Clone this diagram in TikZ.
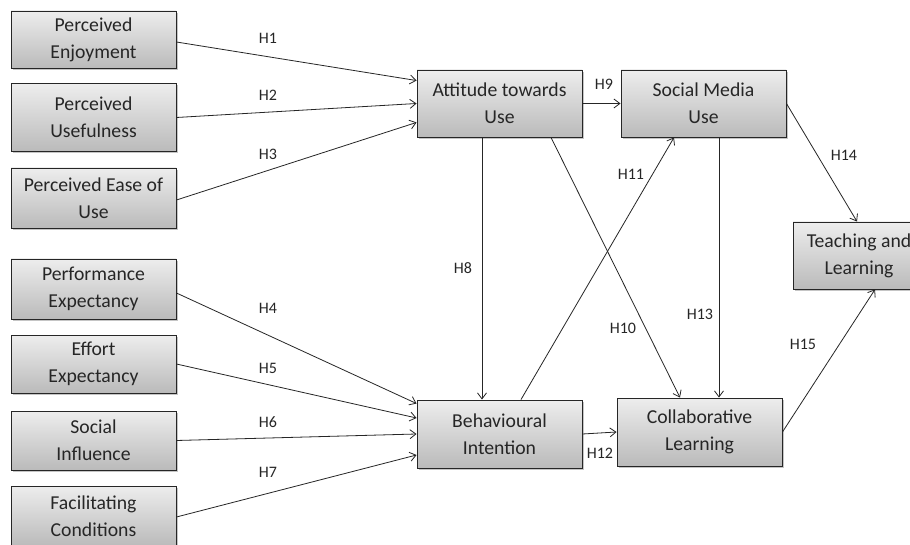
\documentclass[tikz,border=0pt]{standalone}
\usepackage{fontspec}
\setmainfont{Carlito}
\usetikzlibrary{arrows.meta,shadows}
\definecolor{ink}{HTML}{262626}
\tikzset{
  box/.style={draw=black!85, line width=0.9pt, top color=black!7, bottom color=black!27,
    drop shadow={shadow xshift=1.6pt, shadow yshift=-1.6pt, opacity=0.45},
    align=center, text=ink, inner sep=2pt, minimum width=165pt,
    font=\fontsize{19.7}{27}\selectfont},
  arr/.style={draw=ink, line width=0.8pt, -{Straight Barb[length=6pt,width=9pt]}},
  lbl/.style={text=ink, inner sep=0pt, font=\fontsize{16}{18}\selectfont}
}
\begin{document}
\begin{tikzpicture}[x=1pt,y=-1pt]
\clip (0,0) rectangle (910,545);
\fill[white] (0,0) rectangle (910,545);
% left column
\node[box, minimum height=57pt] (pe)   at (93.5,39.5)  {Perceived\\Enjoyment};
\node[box, minimum height=68pt] (pu)   at (93.5,117.5) {Perceived\\Usefulness};
\node[box, minimum height=60pt] (peou) at (93.5,198)   {Perceived Ease of\\Use};
\node[box, minimum height=60pt] (perf) at (93.5,289)   {Performance\\Expectancy};
\node[box, minimum height=58pt] (eff)  at (93.5,364)   {Effort\\Expectancy};
\node[box, minimum height=59pt] (si)   at (93.5,440.5) {Social\\Influence};
\node[box, minimum height=60pt] (fc)   at (93.5,516)   {Facilitating\\Conditions};
% middle / right
\node[box, minimum height=67pt] (att) at (499.5,103.5) {Attitude towards\\Use};
\node[box, minimum height=67pt] (smu) at (703.5,103.5) {Social Media\\Use};
\node[box, minimum height=68pt] (bi)  at (499.5,434)   {Behavioural\\Intention};
\node[box, minimum height=68pt] (cl)  at (699.5,432)   {Collaborative\\Learning};
\node[box, minimum height=67pt, minimum width=132pt] (tl) at (859,255.5) {Teaching and\\Learning};
% connectors
\draw[arr] ([yshift=-2.5pt]pe.east) -- ([yshift=-11pt]att.north west);
\draw[arr] (pu.east) -- (att.west);
\draw[arr] ([yshift=-2pt]peou.east) -- ([yshift=15pt]att.south west);
\draw[arr] ([yshift=-4pt]perf.east) -- ([yshift=-4pt]bi.north west);
\draw[arr] (eff.east) -- ([yshift=16pt]bi.west);
\draw[arr] (si.east) -- (bi.west);
\draw[arr] ([yshift=-1pt]fc.east) -- ([yshift=-21pt]bi.west);
\draw[arr] (att.east) -- (smu.west);
\draw[arr] ([xshift=-17.5pt]att.south) -- ([xshift=-17.5pt]bi.north);
\draw[arr] ([xshift=51.5pt]att.south) -- ([xshift=-19.5pt]cl.north);
\draw[arr] ([xshift=21.5pt]bi.north) -- ([xshift=-29.5pt]smu.south);
\draw[arr] (bi.east) -- (cl.west);
\draw[arr] ([xshift=15.5pt]smu.south) -- ([xshift=19.5pt]cl.north);
\draw[arr] (smu.east) -- ([xshift=-2pt]tl.north);
\draw[arr] (cl.east) -- ([xshift=16pt]tl.south);
% labels
\node[lbl] (h1)  at (268,38)  {H1};
\node[lbl] (h2)  at (268,95)  {H2};
\node[lbl] (h3)  at (268,154) {H3};
\node[lbl] (h4)  at (268,308) {H4};
\node[lbl] (h5)  at (268,368) {H5};
\node[lbl] (h6)  at (268,422) {H6};
\node[lbl] (h7)  at (268,472) {H7};
\node[lbl] (h8)  at (463,268) {H8};
\node[lbl] (h9)  at (604,84)  {H9};
\node[lbl] (h10) at (623,328) {H10};
\node[lbl] (h11) at (631,174) {H11};
\node[lbl] (h12) at (600,453) {H12};
\node[lbl] (h13) at (700,314) {H13};
\node[lbl] (h14) at (844,155) {H14};
\node[lbl] (h15) at (803,344) {H15};
\end{tikzpicture}
\end{document}
